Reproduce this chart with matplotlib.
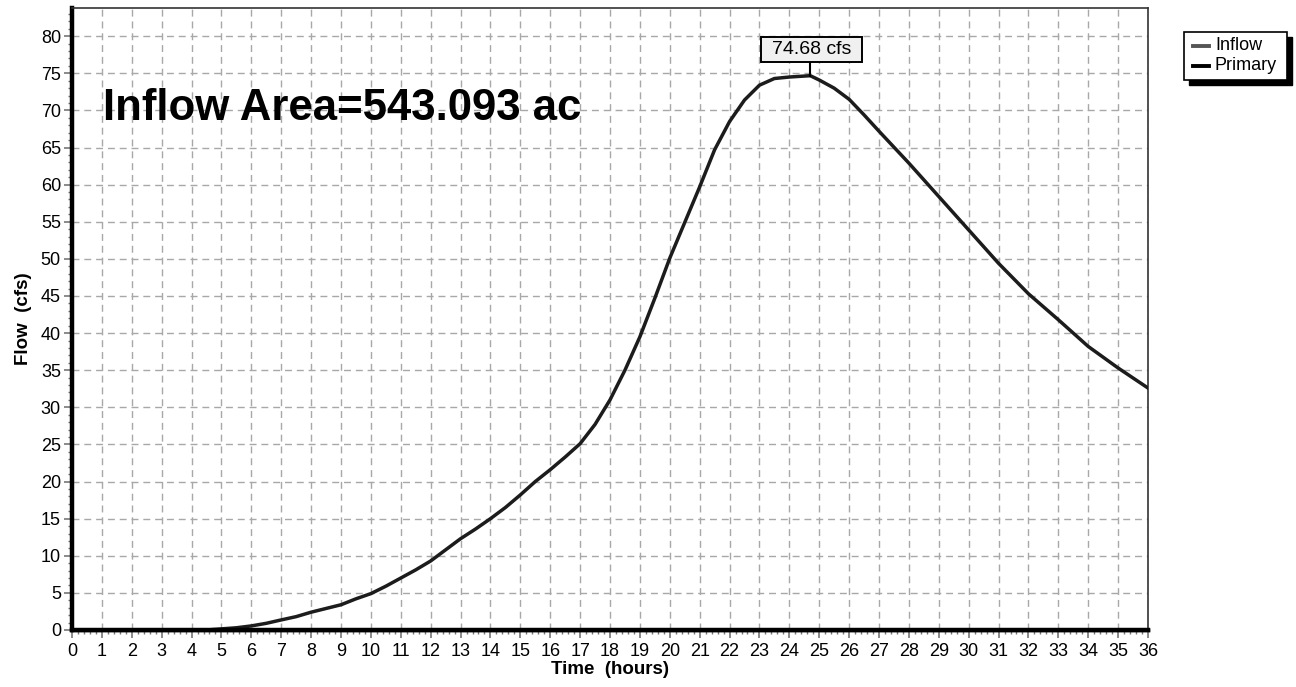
import matplotlib
matplotlib.use("Agg")
import matplotlib.pyplot as plt
from matplotlib.ticker import MultipleLocator
from matplotlib.patches import Rectangle

plt.rcParams['font.family'] = ['Liberation Sans', 'DejaVu Sans']

# ---- data ----
time_hr = [0, 1, 2, 3, 4, 4.5, 5, 5.5, 6, 6.5, 7, 7.5, 8, 8.5, 9, 9.5, 10, 10.5,
           11, 11.5, 12, 12.5, 13, 13.5, 14, 14.5, 15, 15.5, 16, 16.5, 17, 17.5,
           18, 18.5, 19, 19.5, 20, 20.5, 21, 21.5, 22, 22.5, 23, 23.5, 24, 24.7,
           25, 25.5, 26, 26.5, 27, 28, 29, 30, 31, 32, 33, 34, 35, 36]
inflow_cfs = [0, 0, 0, 0, 0, 0.0, 0.15, 0.3, 0.55, 0.9, 1.36, 1.8, 2.4, 2.9, 3.4,
              4.2, 4.9, 5.9, 7.0, 8.1, 9.3, 10.8, 12.3, 13.6, 15.0, 16.5, 18.2,
              20.0, 21.6, 23.3, 25.1, 27.7, 31.0, 35.0, 39.5, 44.7, 50.1, 54.9,
              59.7, 64.7, 68.5, 71.4, 73.4, 74.3, 74.5, 74.68, 74.1, 73.0, 71.5,
              69.4, 67.2, 62.9, 58.4, 53.9, 49.4, 45.3, 41.8, 38.2, 35.3, 32.6]
primary_time = [0, 36]
primary_cfs = [0, 0]
peak_time = 24.7
peak_value = 74.68
area_text = "Inflow Area=543.093 ac"
x_ticks = list(range(0, 37))
y_ticks = list(range(0, 81, 5))

fig = plt.figure(figsize=(12.96, 6.87), dpi=100)
ax = fig.add_axes([72/1296, 1-630/687, (1148-72)/1296, (630-8)/687])

ax.plot(time_hr, inflow_cfs, color='#1c1c1c', lw=2.5, solid_joinstyle='round', zorder=4)
ax.plot(primary_time, primary_cfs, color='black', lw=3.2, zorder=5, clip_on=False)

ax.set_xlim(0, 36)
ax.set_ylim(0, 83.8)
ax.set_xticks(x_ticks)
ax.set_yticks(y_ticks)
ax.xaxis.set_minor_locator(MultipleLocator(0.2))
ax.yaxis.set_minor_locator(MultipleLocator(1))
ax.tick_params(axis='both', which='major', direction='out', length=6, width=1.2,
               color='#777777', labelsize=13, pad=2)
ax.tick_params(axis='x', which='major', pad=3)
ax.tick_params(axis='both', which='minor', direction='out', length=3, width=1,
               color='#777777')
ax.grid(True, which='major', color='#a8a8a8', lw=1.0, linestyle=(0, (5, 3.5)))
ax.set_axisbelow(True)

for side in ['top', 'right']:
    ax.spines[side].set_linewidth(1.2)
    ax.spines[side].set_color('#333333')
ax.spines['left'].set_linewidth(3.2)
ax.spines['bottom'].set_linewidth(2.5)

ax.set_xlabel('Time  (hours)', fontsize=13.5, fontweight='bold', labelpad=1)
ax.set_ylabel('Flow  (cfs)', fontsize=13.5, fontweight='bold', labelpad=6)

ax.text(1.05, 70.2, area_text, fontsize=31.5, fontweight='bold', ha='left', va='center')

# peak annotation
box_w, box_y0, box_y1 = 3.38, 76.5, 79.85
ax.plot([peak_time, peak_time], [peak_value, box_y0], color='black', lw=1.5, zorder=6)
ax.add_patch(Rectangle((peak_time + 0.05 - box_w / 2, box_y0), box_w, box_y1 - box_y0,
                       fc='#f0f0f0', ec='black', lw=1.4, zorder=7))
ax.text(peak_time + 0.05, (box_y0 + box_y1) / 2, f"{peak_value:.2f} cfs", fontsize=14,
        ha='center', va='center', zorder=8)

# legend with shadow
lx0, ly0, lw_, lh = 1184/1296, 1-80/687, 103/1296, 48/687
fig.patches.append(Rectangle((lx0 + 5/1296, ly0 - 5/687), lw_, lh, transform=fig.transFigure,
                             fc='black', ec='black', zorder=1))
fig.patches.append(Rectangle((lx0, ly0), lw_, lh, transform=fig.transFigure,
                             fc='white', ec='black', lw=1.2, zorder=2))
for i, (lab, col) in enumerate([('Inflow', '#555555'), ('Primary', 'black')]):
    yy = 1 - (46 + i * 20) / 687
    fig.lines.append(plt.Line2D([1193/1296, 1209/1296], [yy, yy], transform=fig.transFigure,
                                color=col, lw=2.8, zorder=3))
    fig.text(1215/1296, yy, lab, fontsize=13, va='center', ha='left', zorder=3)

fig.savefig('out.png', dpi=100)
